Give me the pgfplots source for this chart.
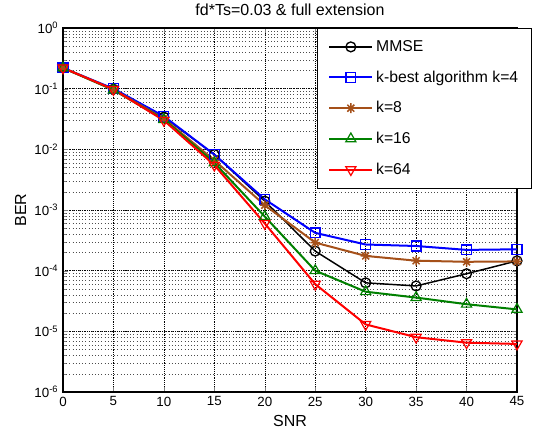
\documentclass[border=0pt]{standalone}
\usepackage{pgfplots}
\pgfplotsset{compat=1.18}
\usepackage{fontspec}
\setmainfont{Liberation Sans}
\definecolor{kbrown}{RGB}{165,80,25}
\definecolor{kgreen}{RGB}{0,128,0}
% MATLAB-like '*' marker: plus and cross together
\pgfdeclareplotmark{mstar}{%
  \pgfpathmoveto{\pgfqpoint{0pt}{\pgfplotmarksize}}\pgfpathlineto{\pgfqpoint{0pt}{-\pgfplotmarksize}}%
  \pgfpathmoveto{\pgfqpoint{\pgfplotmarksize}{0pt}}\pgfpathlineto{\pgfqpoint{-\pgfplotmarksize}{0pt}}%
  \pgfpathmoveto{\pgfqpoint{.707\pgfplotmarksize}{.707\pgfplotmarksize}}\pgfpathlineto{\pgfqpoint{-.707\pgfplotmarksize}{-.707\pgfplotmarksize}}%
  \pgfpathmoveto{\pgfqpoint{-.707\pgfplotmarksize}{.707\pgfplotmarksize}}\pgfpathlineto{\pgfqpoint{.707\pgfplotmarksize}{-.707\pgfplotmarksize}}%
  \pgfusepathqstroke}
\begin{document}
\begin{tikzpicture}
\begin{axis}[
    width=340.5pt, height=273pt, scale only axis,
    ymode=log,
    xmin=0, xmax=45, ymin=1e-6, ymax=1,
    xtick={0,5,...,45},
    ytick={1e-6,1e-5,1e-4,1e-3,1e-2,1e-1,1},
    yticklabels={10\textsuperscript{-6},10\textsuperscript{-5},10\textsuperscript{-4},10\textsuperscript{-3},10\textsuperscript{-2},10\textsuperscript{-1},10\textsuperscript{0}},
    /pgf/number format/assume math mode=true,
    tick label style={font=\fontsize{10}{12}\selectfont},
    label style={font=\fontsize{12}{14}\selectfont},
    title style={font=\fontsize{12}{14}\selectfont, yshift=0pt},
    title={fd*Ts=0.03 \& full extension},
    xlabel={SNR}, ylabel={BER},
    xlabel style={yshift=0pt}, ylabel style={yshift=-0.5pt},
    grid=both,
    major grid style={black, densely dotted, line width=0.4pt},
    minor grid style={black!70, dotted, line width=0.3pt},
    tick align=inside,
    major tick length=4pt, minor tick length=2pt,
    axis line style={line width=0.8pt},
    legend cell align=left,
    legend style={at={(1.033,1)}, anchor=north east, draw=black, line width=0.6pt,
        font=\fontsize{11.8}{13}\selectfont, row sep=9pt, inner ysep=7pt, inner xsep=8pt, fill=white},
    legend image code/.code={\draw[mark repeat=2,mark phase=2] plot coordinates {(0cm,0cm)(0.57cm,0cm)(1.14cm,0cm)};},
    every axis plot/.append style={line width=1.5pt, mark size=3.7pt},
]
\addplot[black, line width=1.1pt, mark=o, mark options={solid, fill=white, line width=1pt}] coordinates {
(0,0.22) (5,0.098) (10,0.034) (15,0.0082) (20,0.0014) (25,2.1e-4) (30,6.3e-5) (35,5.6e-5) (40,8.9e-5) (45,1.45e-4)};
\addplot[blue, mark=square, mark options={solid, fill=white, line width=1pt}] coordinates {
(0,0.22) (5,0.1) (10,0.035) (15,0.0082) (20,0.0015) (25,4.2e-4) (30,2.7e-4) (35,2.55e-4) (40,2.2e-4) (45,2.25e-4)};
\addplot[kbrown, mark=mstar, mark options={solid, line width=1.1pt}] coordinates {
(0,0.22) (5,0.097) (10,0.032) (15,0.0066) (20,0.0012) (25,2.9e-4) (30,1.75e-4) (35,1.46e-4) (40,1.4e-4) (45,1.42e-4)};
\addplot[kgreen, mark=triangle, mark size=4.4pt, mark options={solid, fill=white, line width=0.9pt}] coordinates {
(0,0.22) (5,0.095) (10,0.031) (15,0.006) (20,7.8e-4) (25,1e-4) (30,4.5e-5) (35,3.6e-5) (40,2.8e-5) (45,2.3e-5)};
\addplot[red, mark=triangle, mark size=4.4pt, mark options={solid, fill=white, line width=0.9pt, rotate=180}] coordinates {
(0,0.22) (5,0.097) (10,0.03) (15,0.0055) (20,6e-4) (25,6e-5) (30,1.3e-5) (35,8e-6) (40,6.5e-6) (45,6.2e-6)};
\legend{MMSE, k-best algorithm k=4, k=8, k=16, k=64}
\end{axis}
\pgfresetboundingbox
\path ([shift={(-47.25pt,-31.5pt)}]current axis.south west) rectangle ([shift={(12.75pt,21pt)}]current axis.north east);
\end{tikzpicture}
\end{document}
